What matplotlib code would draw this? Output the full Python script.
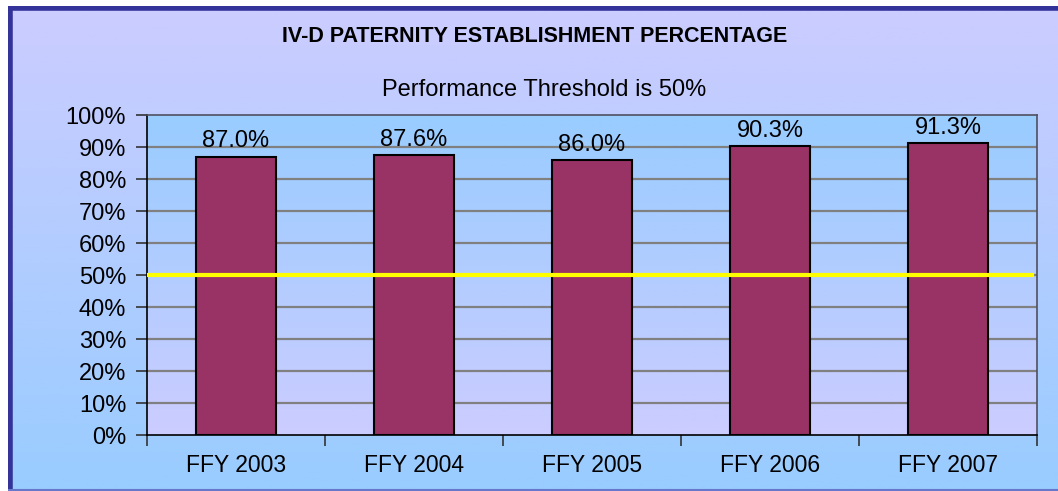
import numpy as np
import matplotlib
matplotlib.use('Agg')
import matplotlib.pyplot as plt
from matplotlib.colors import LinearSegmentedColormap

plt.rcParams['font.family'] = ['Liberation Sans', 'DejaVu Sans']

years = ['FFY 2003', 'FFY 2004', 'FFY 2005', 'FFY 2006', 'FFY 2007']
pct = [87.0, 87.6, 86.0, 90.3, 91.3]
threshold = 50
y_ticks = [0, 10, 20, 30, 40, 50, 60, 70, 80, 90, 100]

BAR = '#993366'
LAV = '#CCCCFF'
SKY = '#99CCFF'

W, H = 1058, 491
fig = plt.figure(figsize=(W / 100, H / 100), dpi=100)
fig.patch.set_facecolor('white')

# figure background: lavender at top fading to sky blue at bottom
bg = fig.add_axes([8 / W, 0, 1 - 8 / W, 1 - 6 / H], zorder=-10)
bg_cmap = LinearSegmentedColormap.from_list('bg', [SKY, LAV])
bg.imshow(np.linspace(0, 1, 256).reshape(-1, 1), cmap=bg_cmap, origin='lower',
          aspect='auto', extent=[0, 1, 0, 1])
bg.set_xlim(0, 1)
bg.set_ylim(0, 1)
bg.axis('off')
bg.plot([0.002, 0.002], [0, 1], color='#333399', lw=4, solid_capstyle='butt')
bg.plot([0, 1], [0.996, 0.996], color='#333399', lw=4, solid_capstyle='butt')
bg.plot([0, 1], [0.002, 0.002], color='#6677CC', lw=1.5)

ax = fig.add_axes([147 / W, 1 - 435 / H, 890 / W, 320 / H])
x = np.arange(len(years))

# plot area: lavender at bottom fading to sky blue at top
ax_cmap = LinearSegmentedColormap.from_list('ax', [LAV, SKY])
ax.imshow(np.linspace(0, 1, 256).reshape(-1, 1), cmap=ax_cmap, origin='lower',
          aspect='auto', extent=[-0.5, len(years) - 0.5, 0, 100], zorder=0)
ax.set_xlim(-0.5, len(years) - 0.5)
ax.set_ylim(0, 100)

for t in y_ticks[1:-1]:
    ax.axhline(t, color='#808080', lw=1.6, zorder=1)

bars = ax.bar(x, pct, width=0.45, color=BAR, edgecolor='black', linewidth=1.5, zorder=3)
for b, v in zip(bars, pct):
    ax.annotate(f'{v:.1f}%', (b.get_x() + b.get_width() / 2, v),
                xytext=(0, 3), textcoords='offset points',
                ha='center', va='bottom', fontsize=17)

ax.axhline(threshold, xmin=0, xmax=0.994, color='#FFFF00', lw=3, zorder=4)

ax.set_yticks(y_ticks)
ax.set_yticklabels([f'{t}%' for t in y_ticks], fontsize=17)
ax.set_xticks(x)
ax.set_xticklabels(years, fontsize=16.5)
ax.tick_params(axis='x', length=0, pad=14)
ax.tick_params(axis='y', length=8, width=1.2, color='#333333', pad=7)
ax.set_xticks(np.arange(-0.5, len(years)), minor=True)
ax.tick_params(axis='x', which='minor', length=8, width=1.2, color='#333333', direction='out')

for side in ['left', 'bottom']:
    ax.spines[side].set_color('black')
    ax.spines[side].set_linewidth(1.2)
for side in ['top', 'right']:
    ax.spines[side].set_color('#505060')
    ax.spines[side].set_linewidth(1.2)

fig.text(535 / W, 1 - 37 / H, 'IV-D PATERNITY ESTABLISHMENT PERCENTAGE',
         ha='center', va='center', fontsize=15.5, fontweight='bold')
fig.text(544 / W, 1 - 90 / H, 'Performance Threshold is 50%',
         ha='center', va='center', fontsize=17)

fig.savefig('out.png', dpi=100)
